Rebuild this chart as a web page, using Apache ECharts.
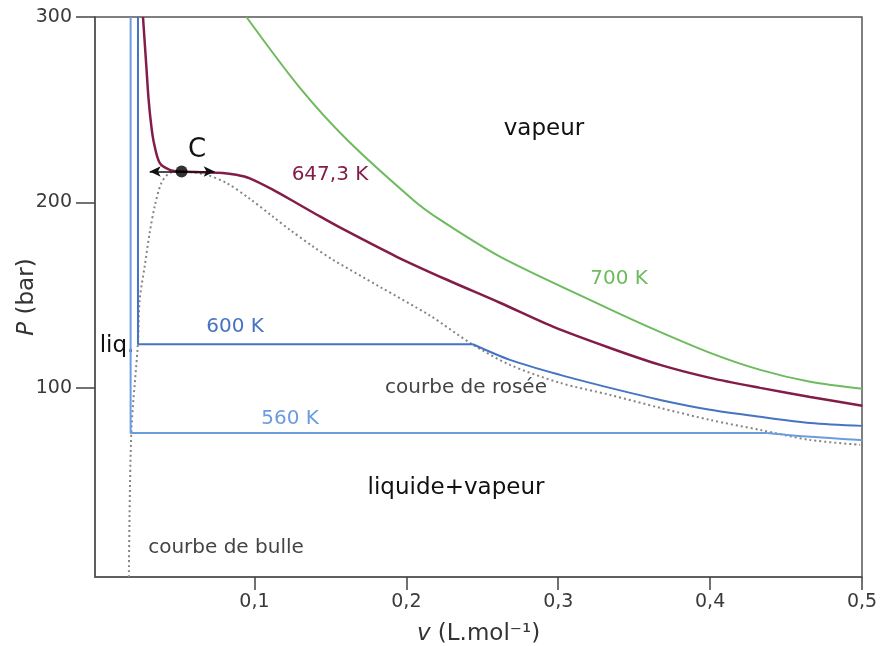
<!DOCTYPE html>
<html>
<head>
<meta charset="utf-8">
<title>Isothermes de l'eau</title>
<script src="https://cdn.jsdelivr.net/npm/echarts@6/dist/echarts.min.js"></script>
<style>
  html, body { margin: 0; padding: 0; background: #fff; }
  #chart { width: 883px; height: 646px; }
</style>
</head>
<body>
<div id="chart"></div>
<script>
// ticks
const vTicks = [0.1, 0.2, 0.3, 0.4, 0.5]
const pTicks = [100, 200, 300]

// isotherme critique 647,3 K  [v (L/mol), P (bar)]
const iso647 = [
  [0.0266, 300], [0.0288, 273.4], [0.0303, 255.4], [0.0321, 241.0], [0.0338, 232.1],
  [0.0376, 221.3], [0.0442, 217.6], [0.0519, 216.7], [0.0791, 215.9], [0.0880, 214.9],
  [0.0969, 213.0], [0.1120, 206.9], [0.1276, 199.7], [0.1408, 193.5], [0.1562, 186.5],
  [0.1937, 170.7], [0.2267, 158.3], [0.2616, 145.9], [0.2965, 133.0], [0.3341, 121.5],
  [0.3671, 112.4], [0.4000, 105.4], [0.4330, 100.0], [0.4659, 95.1], [0.5002, 90.3]
]

// isotherme 700 K
const iso700 = [
  [0.0947, 300], [0.1298, 261.9], [0.1608, 233.9], [0.2043, 201.5], [0.2221, 190.7],
  [0.2616, 170.8], [0.3275, 144.9], [0.3605, 132.5], [0.4000, 118.9], [0.4330, 109.7],
  [0.4659, 103.3], [0.5002, 99.5]
]

// isotherme 600 K : liquide + palier, puis vapeur
const iso600Flat = [[0.0233, 300], [0.0233, 123.5], [0.2438, 123.5]]
const iso600Tail = [
  [0.2438, 123.5], [0.2682, 115.1], [0.3012, 107.0], [0.3341, 100.0], [0.3671, 93.5],
  [0.4000, 88.2], [0.4330, 84.4], [0.4659, 81.1], [0.5002, 79.5]
]

// isotherme 560 K
const iso560Flat = [[0.01845, 300], [0.01845, 75.7], [0.4376, 75.7]]
const iso560Tail = [[0.4376, 75.7], [0.4659, 73.6], [0.4988, 71.9], [0.5002, 71.7]]

// courbe de bulle + courbe de rosée
const satCurve = [
  [0.0173, -2], [0.0189, 75.7], [0.0233, 124.3], [0.0244, 147.5], [0.0277, 165.5],
  [0.0310, 183.6], [0.0343, 197.8], [0.0387, 210.5], [0.0442, 215.9], [0.0519, 216.7],
  [0.0683, 214.9], [0.0815, 210.5], [0.0969, 202.0], [0.1120, 192.4], [0.1232, 185.3],
  [0.1384, 176.3], [0.1516, 169.1], [0.1825, 154.5], [0.2155, 139.0], [0.2438, 123.3],
  [0.2682, 112.4], [0.3012, 102.7], [0.3341, 96.2], [0.3671, 89.2], [0.4000, 82.7],
  [0.4330, 77.3], [0.4659, 71.9], [0.4988, 69.3]
]

// point critique et double fleche
const critPoint = [0.052, 216.7]
const arrowEnds = [[0.031, 216.7], [0.0738, 216.7]]

const FONT = '"DejaVu Sans", sans-serif'
const chart = echarts.init(document.getElementById('chart'))

const txt = (x, y, text, fill, size) => ({
  type: 'text', x: x, y: y, silent: true,
  style: { text: text, fill: fill, font: size + 'px ' + FONT, align: 'center', verticalAlign: 'middle' }
})

chart.setOption({
  animation: false,
  backgroundColor: '#fff',
  grid: {
    left: 95, right: 21, top: 17, bottom: 69,
    show: true, borderColor: '#555', borderWidth: 1.5,
    outerBoundsMode: 'none'
  },
  xAxis: {
    type: 'value',
    min: -0.005,
    max: 0.5,
    name: '{i|v} (L.mol⁻¹)',
    nameLocation: 'middle',
    nameGap: 46,
    nameMoveOverlap: false,
    nameTextStyle: { color: '#333', fontSize: 23, fontFamily: FONT, rich: { i: { fontStyle: 'italic', fontSize: 23, fontFamily: FONT, color: '#333' } } },
    axisLine: { show: true, onZero: false, lineStyle: { color: '#555', width: 1.5 } },
    axisTick: { show: true, customValues: vTicks, length: 13, lineStyle: { color: '#444', width: 1.5 } },
    axisLabel: {
      customValues: vTicks, margin: 16, color: '#3a3a3a', fontSize: 19, fontFamily: FONT,
      formatter: v => String(v).replace('.', ',')
    },
    splitLine: { show: false }
  },
  yAxis: {
    type: 'value',
    min: -2,
    max: 300,
    name: '{i|P} (bar)',
    nameLocation: 'middle',
    nameGap: 56,
    nameMoveOverlap: false,
    nameTextStyle: { color: '#333', fontSize: 23, fontFamily: FONT, rich: { i: { fontStyle: 'italic', fontSize: 23, fontFamily: FONT, color: '#333' } } },
    axisLine: { show: true, onZero: false, lineStyle: { color: '#555', width: 1.5 } },
    axisTick: { show: true, customValues: pTicks, length: 19, lineStyle: { color: '#444', width: 1.5 } },
    axisLabel: { customValues: pTicks, margin: 23, color: '#3a3a3a', fontSize: 19, fontFamily: FONT },
    splitLine: { show: false }
  },
  series: [
    {
      name: 'courbe de saturation', type: 'line', data: satCurve,
      smooth: 0.3, symbol: 'none',
      lineStyle: { color: '#858585', width: 2, type: [2, 3] }
    },
    {
      name: '560 K', type: 'line', data: iso560Flat, symbol: 'none',
      lineStyle: { color: '#6c9ce0', width: 2 }
    },
    {
      name: '560 K b', type: 'line', data: iso560Tail, smooth: 0.3, symbol: 'none',
      lineStyle: { color: '#6c9ce0', width: 2 }
    },
    {
      name: '600 K', type: 'line', data: iso600Flat, symbol: 'none',
      lineStyle: { color: '#4674c2', width: 2 }
    },
    {
      name: '600 K b', type: 'line', data: iso600Tail, smooth: 0.3, symbol: 'none',
      lineStyle: { color: '#4674c2', width: 2 }
    },
    {
      name: '700 K', type: 'line', data: iso700, smooth: 0.3, symbol: 'none',
      lineStyle: { color: '#6dbb5e', width: 2 }
    },
    {
      name: '647,3 K', type: 'line', data: iso647, smooth: 0.3, symbol: 'none',
      lineStyle: { color: '#831d48', width: 2.5 }
    },
    {
      name: 'C', type: 'scatter', data: [critPoint], symbol: 'circle', symbolSize: 12,
      itemStyle: { color: '#000' }, z: 5,
      markLine: {
        silent: true, animation: false,
        symbol: ['arrow', 'arrow'], symbolSize: [8, 11],
        label: { show: false },
        lineStyle: { color: '#111', width: 1.5, type: 'solid' },
        data: [[{ coord: arrowEnds[0] }, { coord: arrowEnds[1] }]]
      }
    }
  ],
  graphic: [
    txt(544, 129, 'vapeur', '#111', 23),
    txt(197, 150, 'C', '#111', 26),
    txt(330, 175, '647,3 K', '#831d48', 20),
    txt(619, 279, '700 K', '#6dbb5e', 20),
    txt(235, 327, '600 K', '#4674c2', 20),
    txt(117, 346, 'liq.', '#111', 23),
    txt(466, 388, 'courbe de rosée', '#444', 20),
    txt(290, 419, '560 K', '#6c9ce0', 20),
    txt(456, 488, 'liquide+vapeur', '#111', 23),
    txt(226, 548, 'courbe de bulle', '#444', 20)
  ]
})
</script>
</body>
</html>
